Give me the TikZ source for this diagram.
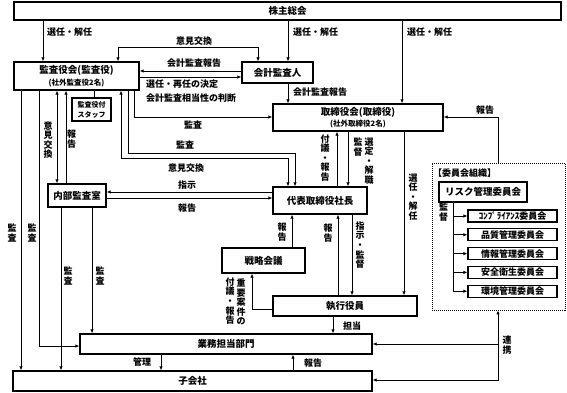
\documentclass[tikz,border=0pt]{standalone}
\usepackage{fontspec}
\setmainfont{Noto Sans CJK JP}
\usetikzlibrary{arrows.meta}
\begin{document}
\begin{tikzpicture}[x=1pt,y=-1pt,
  box/.style={draw,line width=1.3pt,fill=white,inner sep=0pt,align=center,font=\fontsize{9.5}{11.5}\selectfont\bfseries},
  sbox/.style={box,line width=1.1pt,font=\fontsize{9}{9.5}\selectfont\bfseries},
  con/.style={line width=0.9pt},
  arr/.style={con,-{Latex[length=4pt,width=3.4pt]}},
  arrb/.style={con,{Latex[length=4pt,width=3.4pt]}-{Latex[length=4pt,width=3.4pt]}},
  lab/.style={inner sep=0pt,font=\fontsize{9}{10}\selectfont\bfseries},
  vlab/.style={lab,align=center,font=\fontsize{9}{9.6}\selectfont\bfseries},
]
\useasboundingbox (0,0) rectangle (567,393);
% boxes
\node[box,minimum width=547pt,minimum height=18pt] (sh) at (287.5,11) {株主総会};
\node[box,minimum width=125pt,minimum height=28pt] (kansa) at (76.5,76) {監査役会(監査役)\\{\fontsize{7.5}{8}\selectfont (社外監査役2名)}};
\node[box,minimum width=71pt,minimum height=21pt] (kaikei) at (277.5,72.5) {会計監査人};
\node[sbox,minimum width=39pt,minimum height=23pt,font=\fontsize{7}{10}\selectfont\bfseries] (staff) at (91.5,109.5) {監査役付\\スタッフ};
\node[box,minimum width=170pt,minimum height=27pt] (tori) at (358,117.5) {取締役会(取締役)\\{\fontsize{7.5}{8}\selectfont (社外取締役2名)}};
\node[box,minimum width=58pt,minimum height=23pt] (naibu) at (77,195.5) {内部監査室};
\node[box,minimum width=94pt,minimum height=27pt] (ceo) at (320,200.5) {代表取締役社長};
\node[box,minimum width=83pt,minimum height=25pt] (senryaku) at (263.5,260.5) {戦略会議};
\node[box,minimum width=144pt,minimum height=20pt] (shikko) at (345,306) {執行役員};
\node[box,minimum width=292pt,minimum height=20pt] (gyomu) at (226,344) {業務担当部門};
\node[box,minimum width=359pt,minimum height=20pt] (ko) at (192.5,381) {子会社};
% committee organisation
\node[draw,line width=0.9pt,dash pattern=on 1pt off 1pt,minimum width=133pt,minimum height=147pt,inner sep=0pt] (iinkai) at (498.5,236.5) {};
\node[lab,anchor=west] (iinlab) at (433,173) {【委員会組織】};
\node[box,minimum width=88pt,minimum height=20pt] (risk) at (483,192) {リスク管理委員会};
\node[sbox,minimum width=89pt,minimum height=12pt] (c1) at (512.5,216) {ｺﾝﾌﾟﾗｲｱﾝｽ委員会};
\node[sbox,minimum width=89pt,minimum height=12pt] (c2) at (512.5,234.8) {品質管理委員会};
\node[sbox,minimum width=89pt,minimum height=12pt] (c3) at (512.5,253.6) {情報管理委員会};
\node[sbox,minimum width=89pt,minimum height=12pt] (c4) at (512.5,272.4) {安全衛生委員会};
\node[sbox,minimum width=89pt,minimum height=12pt] (c5) at (512.5,291.2) {環境管理委員会};
\draw[con] (453,0 |- risk.south) -- (453,0 |- c5.west);
\foreach \c in {c1,c2,c3,c4,c5} \draw[arr] (453,0 |- \c.west) -- (\c.west);
\node[vlab] at (443.5,212) {監\\督};
% shareholders
\draw[arr] (43,0 |- sh.south) -- (43,0 |- kansa.north);
\node[lab,anchor=west] at (47,32) {選任・解任};
\draw[arr] (288,0 |- sh.south) -- (288,0 |- kaikei.north);
\node[lab,anchor=west] at (293,32) {選任・解任};
\draw[arr] (402,0 |- sh.south) -- (402,0 |- tori.north);
\node[lab,anchor=west] at (407,32) {選任・解任};
% kansa - kaikei
\draw[arrb] (118,0 |- kansa.north) -- (118,47) -- (258,47) -- (258,0 |- kaikei.north);
\node[lab] at (194,41) {意見交換};
\draw[arr] (kaikei.west |- 0,71) -- (kansa.east |- 0,71);
\node[lab] at (194,63) {会計監査報告};
\draw[arr] (kansa.east |- 0,77) -- (kaikei.west |- 0,77);
\node[lab,anchor=west] at (146,84) {選任・再任の決定};
\node[lab,anchor=west] at (146,98) {会計監査相当性の判断};
\draw[arr] (288,0 |- kaikei.south) -- (288,0 |- tori.north);
\node[lab,anchor=west] at (293,92) {会計監査報告};
% staff
\draw[con] (94,0 |- kansa.south) -- (94,0 |- staff.north);
% kansa - tori / ceo
\draw[arr] (134,0 |- kansa.south) -- (134,117) -- (tori.west |- 0,117);
\node[lab] at (193,125) {監査};
\draw[arr] (128,0 |- kansa.south) -- (128,153) -- (295,153) -- (295,0 |- ceo.north);
\node[lab] at (185,145) {監査};
\draw[arrb] (121,0 |- kansa.south) -- (121,158) -- (288,158) -- (288,0 |- ceo.north);
\node[lab] at (186,168) {意見交換};
% kansa - naibu
\draw[arrb] (57,0 |- kansa.south) -- (57,0 |- naibu.north);
\node[vlab] at (48,140) {意\\見\\交\\換};
\draw[arr] (66,0 |- naibu.north) -- (66,0 |- kansa.south);
\node[vlab] at (71.5,139) {報\\告};
% ceo - naibu
\draw[arr] (ceo.west |- 0,192) -- (naibu.east |- 0,192);
\node[lab] at (187,185) {指示};
\draw[arr] (naibu.east |- 0,198) -- (ceo.west |- 0,198);
\node[lab] at (187,208) {報告};
% audits downwards
\draw[arr] (21,0 |- kansa.south) -- (21,0 |- ko.north);
\node[vlab] at (12,233) {監\\査};
\draw[arr] (39,0 |- kansa.south) -- (39,346) -- (gyomu.west |- 0,346);
\node[vlab] at (32,233) {監\\査};
\draw[arr] (61,0 |- naibu.south) -- (61,0 |- ko.north);
\node[vlab] at (68,276) {監\\査};
\draw[arr] (92,0 |- naibu.south) -- (92,0 |- gyomu.north);
\node[vlab] at (100,276) {監\\査};
% tori - ceo
\draw[arr] (337,0 |- ceo.north) -- (337,0 |- tori.south);
\node[vlab] at (325,158) {付\\議\\・\\報\\告};
\draw[arr] (348,0 |- tori.south) -- (348,0 |- ceo.north);
\node[vlab] at (358,147) {監\\督};
\node[vlab] at (369,161) {選\\定\\・\\解\\職};
\draw[arr] (404,0 |- tori.south) -- (404,0 |- shikko.north);
\node[vlab] at (413,197) {選\\任\\・\\解\\任};
% ceo - shikko / senryaku
\draw[arr] (352,0 |- ceo.south) -- (352,0 |- shikko.north);
\node[vlab] at (360,245) {指\\示\\・\\監\\督};
\draw[arr] (338,0 |- shikko.north) -- (338,0 |- ceo.south);
\node[vlab] at (328,233) {報\\告};
\draw[arr] (292,0 |- senryaku.north) -- (292,0 |- ceo.south);
\node[vlab] at (282,232) {報\\告};
\draw[arr] (shikko.west |- 0,309) -- (252,309) -- (252,0 |- senryaku.south);
\node[vlab] at (241,302) {重\\要\\案\\件\\の};
\node[vlab] at (230,301) {付\\議\\・\\報\\告};
% bottom
\draw[arr] (333,0 |- shikko.south) -- (333,0 |- gyomu.north);
\node[lab] at (352,326) {担当};
\draw[arr] (161,0 |- gyomu.south) -- (161,0 |- ko.north);
\node[lab] at (142,362) {管理};
\draw[arr] (293,0 |- ko.north) -- (293,0 |- gyomu.south);
\node[lab] at (313,363) {報告};
% committee links
\coordinate (rk) at (498,344);
\draw[arrb] (ko.east |- 0,380) -- (498,380) -- (498,0 |- iinkai.south);
\draw[arr] (rk) -- (gyomu.east |- rk);
\node[vlab] at (507,345) {連\\携};
\draw[arr] (498,0 |- iinkai.north) -- (498,117) -- (tori.east |- 0,117);
\node[lab] at (485,110) {報告};
\end{tikzpicture}
\end{document}
